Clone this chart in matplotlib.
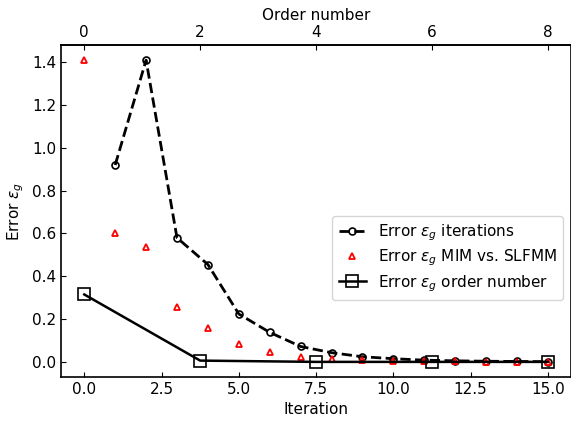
import matplotlib
matplotlib.use("Agg")
import matplotlib.pyplot as plt

# dashed curve: error over iterations
iter_x = [1, 2, 3, 4, 5, 6, 7, 8, 9, 10, 11, 12, 13, 14, 15]
iter_err = [0.92, 1.41, 0.58, 0.455, 0.224, 0.138, 0.072, 0.043, 0.024, 0.015,
            0.008, 0.005, 0.003, 0.002, 0.001]

# red triangles: MIM vs. SLFMM
mim_x = [0, 1, 2, 3, 4, 5, 6, 7, 8, 9, 10, 11, 12, 13, 14, 15]
mim_err = [1.41, 0.603, 0.537, 0.257, 0.16, 0.085, 0.048, 0.025, 0.015, 0.008,
           0.005, 0.003, 0.002, 0.001, 0.001, 0.001]

# solid curve: error vs order number (top axis)
order_num = [0, 2, 4, 6, 8]
order_err = [0.315, 0.006, 0.0, 0.0, 0.0]
order_ticks = [0, 2, 4, 6, 8]
iter_ticks = [0.0, 2.5, 5.0, 7.5, 10.0, 12.5, 15.0]

ITER_MAX = 15
ORDER_MAX = 8

fig = plt.figure(figsize=(5.71, 4.25), dpi=100)
ax = fig.add_axes([0.107, 0.113, 0.893, 0.781])

ax.plot(iter_x, iter_err, "--o", color="black", linewidth=2, markersize=5,
        markerfacecolor="none", markeredgewidth=1.2, label=r"Error $\epsilon_g$ iterations")
ax.plot(mim_x, mim_err, "^", color="red", markersize=5, markerfacecolor="none",
        markeredgewidth=1.3, linestyle="none", label=r"Error $\epsilon_g$ MIM vs. SLFMM")
order_pos = [o * ITER_MAX / ORDER_MAX for o in order_num]
ax.plot(order_pos, order_err, "-s", color="black", linewidth=1.8, markersize=8,
        markerfacecolor="none", markeredgewidth=1.2, label=r"Error $\epsilon_g$ order number")

ax.set_xticks(iter_ticks)
ax.set_xlabel("Iteration", fontsize=11)
ax.set_ylabel(r"Error $\epsilon_g$", fontsize=11)
ax.tick_params(direction="in", labelsize=11)
for sp in ax.spines.values():
    sp.set_linewidth(1.2)

top = ax.secondary_xaxis("top", functions=(lambda x: x * ORDER_MAX / ITER_MAX,
                                          lambda x: x * ITER_MAX / ORDER_MAX))
top.set_xticks(order_ticks)
top.tick_params(direction="in", labelsize=11)
top.set_xlabel("Order number", fontsize=11)
top.spines["top"].set_linewidth(1.2)

ax.legend(loc="lower right", bbox_to_anchor=(1.0, 0.21), fontsize=11,
          labelspacing=0.3, handlelength=1.8)

fig.savefig("out.png", dpi=100)
